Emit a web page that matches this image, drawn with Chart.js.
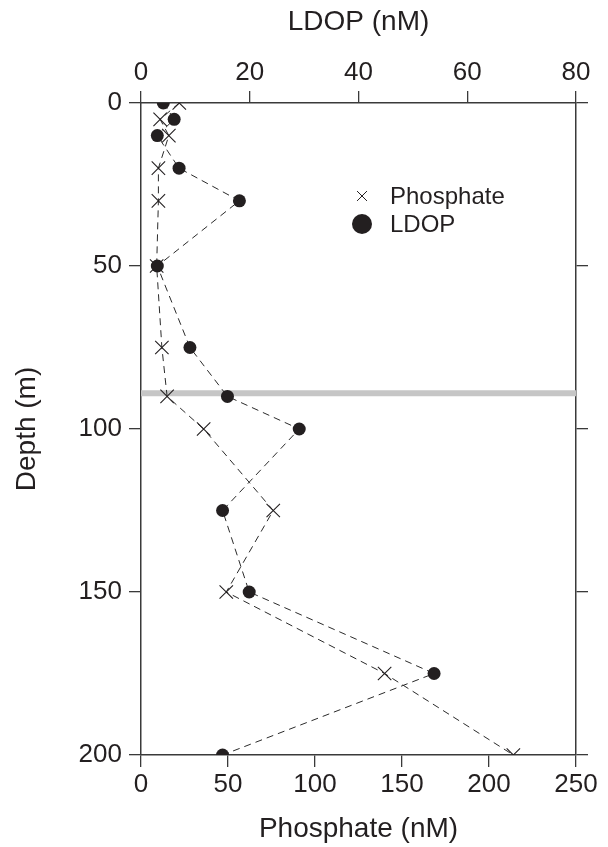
<!DOCTYPE html>
<html>
<head>
<meta charset="utf-8">
<script src="https://cdn.jsdelivr.net/npm/chart.js@4/dist/chart.umd.min.js"></script>
<style>
  html, body { margin: 0; padding: 0; background: #fff; }
  #wrap { width: 608px; height: 847px; position: relative; }
</style>
</head>
<body>
<div id="wrap"><canvas id="myChart"></canvas></div>
<script>
// Tiefen (m) der Proben
const depths = [0, 5, 10, 20, 30, 50, 75, 90, 100, 125, 150, 175, 200];
// Phosphat (nM), untere Achse
const phosphate = [22, 11, 16, 10, 10, 9, 12, 15, 36, 76, 49, 140, 214];
// LDOP (nM), obere Achse
const ldop = [4.1, 6.1, 3.0, 7.0, 18.1, 3.0, 9.0, 15.9, 29.1, 15.0, 19.9, 53.9, 15.0];
// graue Linie (Tiefe in m)
const bandDepth = 89;
const phosphateRange = [0, 250];

const ink = '#231f20';
const fontFamily = '"Liberation Sans", Arial, Helvetica, sans-serif';

function toPoints(xs) {
    return depths.map((d, i) => ({ x: xs[i], y: d }));
}

// Legende innerhalb der Plotfläche
const innerLegend = {
    id: 'innerLegend',
    afterDatasetsDraw(chart) {
        const ctx = chart.ctx;
        const area = chart.chartArea;
        const items = chart.data.datasets.filter(ds => ds.inLegend);
        ctx.save();
        ctx.font = '24px ' + fontFamily;
        ctx.textBaseline = 'middle';
        items.forEach((ds, i) => {
            const y = area.top + 93 + i * 28;
            const x = area.left + 221;
            ctx.strokeStyle = ink;
            ctx.fillStyle = ink;
            Chart.helpers.drawPoint(ctx, {
                pointStyle: ds.pointStyle,
                radius: ds.legendRadius,
                rotation: 0,
                borderWidth: ds.legendBorder
            }, x, y);
            ctx.fillStyle = ink;
            ctx.fillText(ds.label, area.left + 249, y + 1);
        });
        ctx.restore();
    }
};

function axisStyle(extra) {
    return Object.assign({
        type: 'linear',
        grid: { drawOnChartArea: false, drawTicks: true, tickLength: 12, color: '#3a3a3a', lineWidth: 1.3 },
        border: { display: true, color: '#3a3a3a', width: 1.5 }
    }, extra);
}

const tickFont = { family: fontFamily, size: 26 };
const titleFont = { family: fontFamily, size: 28 };

const ctx = document.getElementById('myChart').getContext('2d');
const myChart = new Chart(ctx, {
    type: 'scatter',
    data: {
        datasets: [
            {
                label: 'Phosphate',
                inLegend: true,
                data: toPoints(phosphate),
                xAxisID: 'x',
                yAxisID: 'y',
                showLine: true,
                borderColor: '#2a2a2a',
                borderWidth: 1,
                borderDash: [7, 5],
                pointStyle: 'crossRot',
                pointRadius: 9.5,
                legendRadius: 7,
                legendBorder: 1.3,
                pointBorderWidth: 1.1,
                pointBorderColor: ink,
                order: 1
            },
            {
                label: 'LDOP',
                inLegend: true,
                data: toPoints(ldop),
                xAxisID: 'x2',
                yAxisID: 'y',
                showLine: true,
                borderColor: '#2a2a2a',
                borderWidth: 1,
                borderDash: [7, 5],
                pointStyle: 'circle',
                pointRadius: 6.5,
                legendRadius: 10,
                legendBorder: 0,
                pointBorderWidth: 0,
                pointBackgroundColor: ink,
                order: 0
            },
            {
                label: 'band',
                data: phosphateRange.map(p => ({ x: p, y: bandDepth })),
                xAxisID: 'x',
                yAxisID: 'y',
                showLine: true,
                borderColor: '#c6c6c6',
                borderWidth: 6,
                pointRadius: 0,
                order: 3
            }
        ]
    },
    options: {
        responsive: true,
        maintainAspectRatio: false,
        animation: false,
        events: [],
        layout: { padding: 0 },
        plugins: {
            legend: { display: false },
            tooltip: { enabled: false }
        },
        scales: {
            x: axisStyle({
                position: 'bottom', min: 0, max: 250,
                ticks: { stepSize: 50, padding: 2, color: ink, font: tickFont },
                title: { display: true, text: 'Phosphate (nM)', color: ink, font: titleFont, padding: { top: 0, bottom: 1 } },
                afterFit: s => { s.height = 92; }
            }),
            x2: axisStyle({
                position: 'top', min: 0, max: 80,
                ticks: { stepSize: 20, padding: 3, color: ink, font: tickFont },
                title: { display: true, text: 'LDOP (nM)', color: ink, font: titleFont, padding: { top: 5, bottom: 0 } },
                afterFit: s => { s.height = 103; }
            }),
            y: axisStyle({
                position: 'left', min: 0, max: 200, reverse: true,
                ticks: { stepSize: 50, padding: 7, color: ink, font: tickFont },
                title: { display: true, text: 'Depth (m)', color: ink, font: titleFont, padding: { top: 10, bottom: 0 } },
                afterFit: s => { s.width = 141; }
            }),
            y2: axisStyle({
                position: 'right', min: 0, max: 200, reverse: true,
                ticks: { stepSize: 50, color: 'rgba(0,0,0,0)', font: tickFont },
                afterFit: s => { s.width = 32; }
            })
        }
    },
    plugins: [innerLegend]
});
</script>
</body>
</html>
